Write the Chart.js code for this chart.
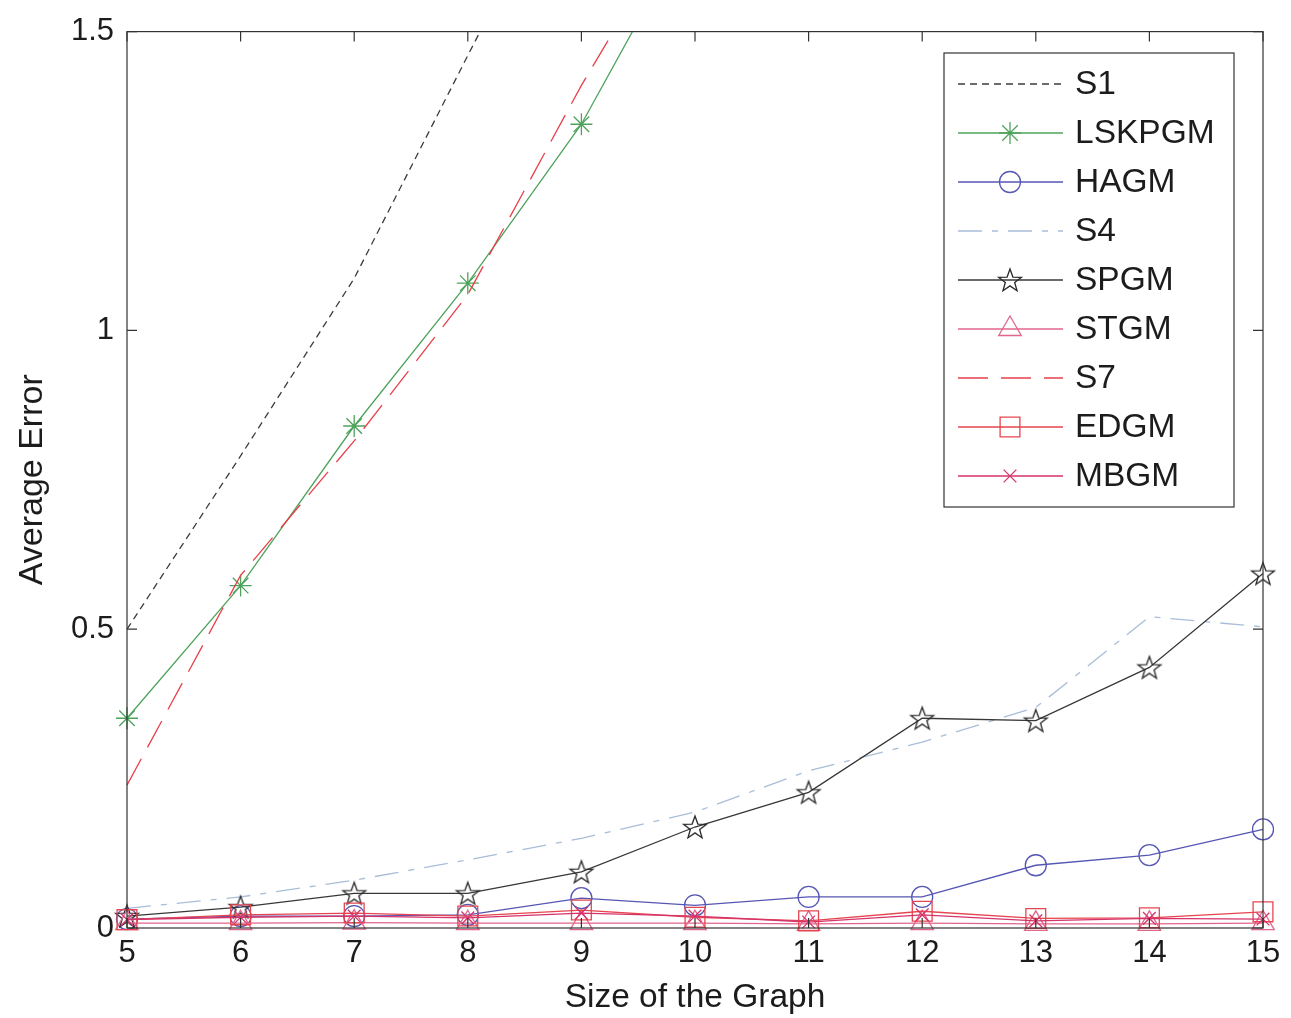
<!DOCTYPE html>
<html>
<head>
<meta charset="utf-8">
<title>Average Error vs Size of the Graph</title>
<script src="https://cdn.jsdelivr.net/npm/chart.js@4.4.1/dist/chart.umd.min.js"></script>
<style>
  html, body { margin: 0; padding: 0; background: #ffffff; }
  #wrap { width: 1291px; height: 1018px; position: relative; }
</style>
</head>
<body>
<div id="wrap"><canvas id="chart"></canvas></div>
<script>
// Graph sizes on the x axis
const sizes = [5, 6, 7, 8, 9, 10, 11, 12, 13, 14, 15];

// Average error per method (null = beyond the plotted range)
const s1     = [0.50, 0.79, 1.087, 1.46, 1.83, null, null, null, null, null, null];
const lskpgm = [0.351, 0.573, 0.840, 1.079, 1.345, 1.69, null, null, null, null, null];
const hagm   = [0.015, 0.020, 0.020, 0.022, 0.050, 0.038, 0.052, 0.052, 0.105, 0.122, 0.165];
const s4     = [0.033, 0.052, 0.080, 0.114, 0.150, 0.194, 0.263, 0.311, 0.369, 0.521, 0.504];
const spgm   = [0.020, 0.035, 0.058, 0.058, 0.094, 0.169, 0.227, 0.351, 0.347, 0.436, 0.593];
const stgm   = [0.008, 0.008, 0.009, 0.008, 0.008, 0.008, 0.007, 0.008, 0.007, 0.007, 0.008];
const s7     = [0.239, 0.590, 0.815, 1.060, 1.410, 1.730, null, null, null, null, null];
const edgm   = [0.014, 0.022, 0.025, 0.020, 0.030, 0.018, 0.012, 0.028, 0.016, 0.017, 0.027];
const mbgm   = [0.014, 0.018, 0.020, 0.017, 0.025, 0.020, 0.010, 0.022, 0.012, 0.016, 0.015];

const seriesNames = ['S1', 'LSKPGM', 'HAGM', 'S4', 'SPGM', 'STGM', 'S7', 'EDGM', 'MBGM'];
const seriesValues = [s1, lskpgm, hagm, s4, spgm, stgm, s7, edgm, mbgm];

// y axis tick values
const yTicks = [0, 0.5, 1, 1.5];

// Outlined five-pointed star marker
function makePentagram(color) {
  const c = document.createElement('canvas');
  c.width = 28; c.height = 28;
  const g = c.getContext('2d');
  g.strokeStyle = color;
  g.lineWidth = 1.3;
  g.beginPath();
  const R = 12, r = 4.9, cx = 14, cy = 15;
  for (let k = 0; k < 10; k++) {
    const rad = (k % 2 === 0) ? R : r;
    const a = -Math.PI / 2 + k * Math.PI / 5;
    const px = cx + rad * Math.cos(a), py = cy + rad * Math.sin(a);
    if (k === 0) g.moveTo(px, py); else g.lineTo(px, py);
  }
  g.closePath();
  g.stroke();
  return c;
}

const styles = [
  { color: '#3c3c3c', dash: [7, 5],          point: false,            radius: 0 },
  { color: '#4ea35c', dash: [],              point: 'star',           radius: 11 },
  { color: '#5656b4', dash: [],              point: 'circle',         radius: 10.5 },
  { color: '#a9bdd8', dash: [24, 10, 6, 10], point: false,            radius: 0 },
  { color: '#383838', dash: [],              point: makePentagram('#2a2a2a'), radius: 12 },
  { color: '#e0668c', dash: [],              point: 'triangle',       radius: 13 },
  { color: '#e8404a', dash: [30, 13],        point: false,            radius: 0 },
  { color: '#e6454f', dash: [],              point: 'rect',           radius: 14 },
  { color: '#d6336a', dash: [],              point: 'crossRot',       radius: 9 }
];

const datasets = seriesNames.map((name, i) => ({
  label: name,
  data: sizes.map((x, j) => ({ x: x, y: seriesValues[i][j] })),
  borderColor: styles[i].color,
  backgroundColor: 'rgba(0,0,0,0)',
  borderWidth: 1.3,
  borderDash: styles[i].dash,
  pointStyle: styles[i].point,
  pointRadius: styles[i].radius,
  pointHoverRadius: styles[i].radius,
  pointBorderColor: styles[i].color,
  pointBackgroundColor: 'rgba(0,0,0,0)',
  pointBorderWidth: 1.3,
  tension: 0,
  spanGaps: false,
  order: -i,
  clip: { left: 20, right: 20, bottom: 20, top: 0 }
}));

const FONT = '"Liberation Sans", Arial, sans-serif';
const TEXT = '#1c1c1c';

// Box, inward ticks, axis titles and the legend panel
const decorations = {
  id: 'decorations',
  afterDraw(chart) {
    const ctx = chart.ctx;
    const a = chart.chartArea;
    const xs = chart.scales.x, ys = chart.scales.y;
    ctx.save();
    ctx.setLineDash([]);
    ctx.strokeStyle = '#333333';
    ctx.lineWidth = 1.2;
    ctx.strokeRect(a.left, a.top, a.right - a.left, a.bottom - a.top);
    const tl = 10;
    ctx.beginPath();
    sizes.forEach(v => {
      const px = xs.getPixelForValue(v);
      ctx.moveTo(px, a.bottom); ctx.lineTo(px, a.bottom - tl);
      ctx.moveTo(px, a.top);    ctx.lineTo(px, a.top + tl);
    });
    yTicks.forEach(v => {
      const py = ys.getPixelForValue(v);
      ctx.moveTo(a.left, py);  ctx.lineTo(a.left + tl, py);
      ctx.moveTo(a.right, py); ctx.lineTo(a.right - tl, py);
    });
    ctx.stroke();

    // axis titles
    ctx.fillStyle = TEXT;
    ctx.font = '33.5px ' + FONT;
    ctx.textAlign = 'center';
    ctx.textBaseline = 'alphabetic';
    ctx.fillText('Size of the Graph', (a.left + a.right) / 2, 1007);
    ctx.save();
    ctx.translate(42, (a.top + a.bottom) / 2);
    ctx.rotate(-Math.PI / 2);
    ctx.font = '34px ' + FONT;
    ctx.fillText('Average Error', 0, 0);
    ctx.restore();

    // legend panel
    const L = { x: 944, y: 53, w: 290, h: 454, rowTop: 84, rowGap: 49 };
    ctx.fillStyle = '#ffffff';
    ctx.fillRect(L.x, L.y, L.w, L.h);
    ctx.strokeStyle = '#333333';
    ctx.lineWidth = 1.2;
    ctx.strokeRect(L.x, L.y, L.w, L.h);
    chart.data.datasets.forEach((ds, i) => {
      const y = L.rowTop + i * L.rowGap;
      ctx.strokeStyle = ds.borderColor;
      ctx.lineWidth = ds.borderWidth;
      ctx.setLineDash(ds.borderDash || []);
      ctx.beginPath();
      ctx.moveTo(958, y); ctx.lineTo(1063, y);
      ctx.stroke();
      ctx.setLineDash([]);
      if (ds.pointStyle) {
        ctx.strokeStyle = ds.pointBorderColor;
        ctx.fillStyle = 'rgba(0,0,0,0)';
        ctx.lineWidth = ds.pointBorderWidth;
        Chart.helpers.drawPoint(ctx, {
          pointStyle: ds.pointStyle, radius: ds.pointRadius,
          borderWidth: ds.pointBorderWidth, rotation: 0
        }, 1010, y);
      }
      ctx.fillStyle = TEXT;
      ctx.font = '33.5px ' + FONT;
      ctx.textAlign = 'left';
      ctx.textBaseline = 'middle';
      ctx.fillText(ds.label, 1075, y + 1);
    });
    ctx.restore();
  }
};

new Chart(document.getElementById('chart'), {
  type: 'line',
  data: { datasets: datasets },
  options: {
    responsive: true,
    maintainAspectRatio: false,
    animation: false,
    events: [],
    layout: { padding: { left: 0, top: 31, right: 28, bottom: 0 } },
    plugins: { legend: { display: false }, tooltip: { enabled: false } },
    scales: {
      x: {
        type: 'linear', min: 5, max: 15,
        grid: { display: false, drawTicks: false },
        border: { display: false },
        ticks: { stepSize: 1, padding: 7, color: TEXT, font: { size: 31, family: FONT } },
        afterFit(scale) { scale.height = 90; }
      },
      y: {
        type: 'linear', min: 0, max: 1.5,
        grid: { display: false, drawTicks: false },
        border: { display: false },
        ticks: {
          stepSize: 0.5, padding: 13, color: TEXT, font: { size: 31, family: FONT },
          callback: (v) => String(v)
        },
        afterFit(scale) { scale.width = 127; }
      }
    }
  },
  plugins: [decorations]
});
</script>
</body>
</html>
